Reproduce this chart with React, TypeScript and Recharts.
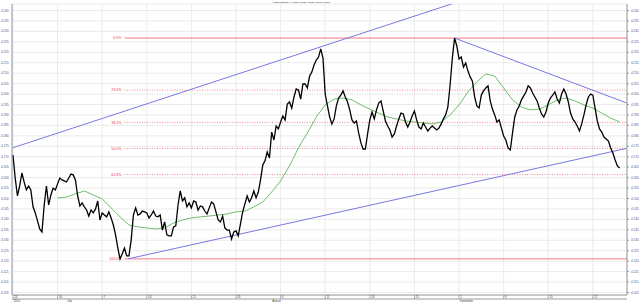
import { LineChart, Line, XAxis, YAxis, CartesianGrid, ReferenceLine } from 'recharts';

// one point every quarter of a trading day, day 0 = Mon 23 June 2014
const STEP = 0.25;
const price = [
  4.1708, 4.1598, 4.1512, 4.1560, 4.1622, 4.1579, 4.1541, 4.1560, 4.1541, 4.1460,
  4.1431, 4.1393, 4.1354, 4.1340, 4.1469, 4.1560, 4.1469, 4.1517, 4.1550, 4.1541,
  4.1570, 4.1598, 4.1589, 4.1584, 4.1579, 4.1598, 4.1617, 4.1613, 4.1589, 4.1512,
  4.1464, 4.1479, 4.1460, 4.1445, 4.1416, 4.1445, 4.1431, 4.1450, 4.1488, 4.1397,
  4.1431, 4.1421, 4.1412, 4.1436, 4.1407, 4.1373, 4.1326, 4.1263, 4.1211, 4.1235,
  4.1263, 4.1225, 4.1225, 4.1302, 4.1421, 4.1455, 4.1421, 4.1426, 4.1440, 4.1436,
  4.1431, 4.1407, 4.1421, 4.1440, 4.1416, 4.1412, 4.1421, 4.1349, 4.1388, 4.1326,
  4.1321, 4.1321, 4.1364, 4.1369, 4.1469, 4.1536, 4.1488, 4.1503, 4.1460, 4.1479,
  4.1455, 4.1488, 4.1483, 4.1445, 4.1464, 4.1460, 4.1440, 4.1426, 4.1455, 4.1483,
  4.1474, 4.1436, 4.1397, 4.1388, 4.1416, 4.1359, 4.1349, 4.1349, 4.1306, 4.1340,
  4.1345, 4.1321, 4.1378, 4.1436, 4.1474, 4.1512, 4.1483, 4.1503, 4.1536, 4.1503,
  4.1531, 4.1589, 4.1660, 4.1680, 4.1723, 4.1694, 4.1818, 4.1780, 4.1847, 4.1833,
  4.1866, 4.1895, 4.1876, 4.1952, 4.1962, 4.1933, 4.1986, 4.2024, 4.2019, 4.1976,
  4.2048, 4.2048, 4.2029, 4.2086, 4.2105, 4.2139, 4.2163, 4.2177, 4.2216, 4.2172,
  4.2000, 4.1943, 4.1890, 4.1857, 4.1881, 4.1943, 4.1981, 4.1995, 4.2015, 4.1986,
  4.1962, 4.1924, 4.1876, 4.1861, 4.1871, 4.1814, 4.1766, 4.1737, 4.1737, 4.1809,
  4.1876, 4.1914, 4.1881, 4.1924, 4.1957, 4.1967, 4.1919, 4.1871, 4.1847, 4.1828,
  4.1794, 4.1809, 4.1847, 4.1881, 4.1909, 4.1905, 4.1866, 4.1842, 4.1866, 4.1895,
  4.1919, 4.1876, 4.1842, 4.1833, 4.1861, 4.1842, 4.1823, 4.1837, 4.1847, 4.1837,
  4.1828, 4.1837, 4.1857, 4.1881, 4.1900, 4.1938, 4.2043, 4.2172, 4.2268, 4.2230,
  4.2168, 4.2177, 4.2129, 4.2149, 4.2110, 4.2082, 4.2062, 4.1986, 4.1943, 4.1933,
  4.1995, 4.2015, 4.2029, 4.2039, 4.1967, 4.1928, 4.1900, 4.1866, 4.1876, 4.1837,
  4.1799, 4.1780, 4.1742, 4.1732, 4.1814, 4.1890, 4.1924, 4.1943, 4.1972, 4.1991,
  4.2010, 4.2039, 4.2029, 4.2005, 4.1986, 4.1967, 4.1933, 4.1905, 4.1890, 4.1914,
  4.1957, 4.1981, 4.1995, 4.2010, 4.1976, 4.1957, 4.2000, 4.2024, 4.2000, 4.1962,
  4.1909, 4.1881, 4.1866, 4.1847, 4.1823, 4.1857, 4.1900, 4.1948, 4.1986, 4.2000,
  4.1995, 4.1933, 4.1871, 4.1833, 4.1818, 4.1794, 4.1785, 4.1775, 4.1742, 4.1718,
  4.1684, 4.1656, 4.1646,
];

// moving average, one value per trading day from day 5
const MA_START = 5;
const ma = [
  4.1503, 4.1507, 4.1522, 4.1536, 4.1517, 4.1498, 4.1455, 4.1412, 4.1373, 4.1364,
  4.1359, 4.1354, 4.1359, 4.1383, 4.1397, 4.1407, 4.1412, 4.1416, 4.1421, 4.1426,
  4.1436, 4.1440, 4.1460, 4.1483, 4.1531, 4.1584, 4.1656, 4.1742, 4.1814, 4.1890,
  4.1948, 4.1976, 4.1981, 4.1972, 4.1948, 4.1928, 4.1909, 4.1890, 4.1881, 4.1871,
  4.1866, 4.1861, 4.1857, 4.1866, 4.1900, 4.1948, 4.2010, 4.2058, 4.2096, 4.2086,
  4.2029, 4.1972, 4.1938, 4.1924, 4.1928, 4.1948, 4.1972, 4.1981, 4.1967, 4.1948,
  4.1933, 4.1909, 4.1885, 4.1866,
];

const weekTicks = [0, 5, 10, 15, 20, 25, 30, 35, 40, 45, 50, 55, 60, 65];
const weekLabels = ['23', '30', '7', '14', '21', '28', '4', '11', '18', '25', '1', '8', '15', '22'];
const monthTicks = [0, 6, 29, 50];
const monthLabels = ['2014', 'July', 'August', 'September'];

const priceTicks = [
  4.105, 4.11, 4.115, 4.12, 4.125, 4.13, 4.135, 4.14, 4.145, 4.15, 4.155, 4.16, 4.165, 4.17,
  4.175, 4.18, 4.185, 4.19, 4.195, 4.2, 4.205, 4.21, 4.215, 4.22, 4.225, 4.23, 4.235, 4.24,
];

// fibonacci retracement between the July low and the late August high
const HIGH = 4.2268;
const LOW = 4.1211;
const FIB_FROM = 12.5;
const fibRatios = [0, 0.236, 0.382, 0.5, 0.618, 1];
const fibNames = ['0.0%', '23.6%', '38.2%', '50.0%', '61.8%', '100.0%'];

// trend lines [day, price]
const upperTrend = [[0, 4.1743], [60, 4.2583]];
const lowerTrend = [[12.9, 4.1211], [68.8, 4.174]];
const fallTrend = [[49.5, 4.2268], [68.8, 4.1957]];

const X_DOMAIN = [-0.11, 68.83];
const Y_DOMAIN = [4.1038, 4.2431];

const priceData = price.map((p, i) => ({ d: i * STEP, p }));
const maData = ma.map((v, i) => ({ d: MA_START + i, v }));

const FONT = 'Liberation Sans, Arial, sans-serif';
const AXIS = '#9a9a9a';
const GRID = '#e6e6e6';
const FIB = '#ee7a82';
const BLUE = '#7878e6';

// day number inside the strip under the plot, with its own tick mark
const DayTick = (props: any) => {
  const { x, y, payload } = props;
  const i = weekTicks.indexOf(payload.value);
  return (
    <g>
      <line x1={x} y1={y} x2={x} y2={y + 4} stroke={AXIS} strokeWidth={0.8} />
      <text x={x + 1.2} y={y + 3.2} fontSize={3} fill="#444" fontFamily={FONT}>
        {weekLabels[i]}
      </text>
    </g>
  );
};

const MonthTick = (props: any) => {
  const { x, y, payload } = props;
  const i = monthTicks.indexOf(payload.value);
  return (
    <text x={x + 0.5} y={y + 2.6} fontSize={2.8} fill="#444" fontFamily={FONT}>
      {monthLabels[i]}
    </text>
  );
};

const PriceTick = (props: any) => {
  const { x, y, payload, side } = props;
  return (
    <text
      x={side === 'left' ? 1 : x + 2}
      y={y + 1.1}
      fontSize={3.1}
      fill="#555"
      fontFamily={FONT}
    >
      {payload.value.toFixed(3)}
    </text>
  );
};

const FibLabel = (props: any) => {
  const { viewBox, value } = props;
  return (
    <text
      x={viewBox.x - 3}
      y={viewBox.y + 1.3}
      textAnchor="end"
      fontSize={3.6}
      fill="#e0404a"
      fontFamily={FONT}
    >
      {value}
    </text>
  );
};

export default function App() {
  return (
    <div style={{ position: 'absolute', left: 0, top: 0, width: 640, height: 302, background: '#fff' }}>
      <LineChart width={640} height={302} data={priceData} margin={{ top: 4, right: 0, bottom: 0, left: 0 }}>
        <CartesianGrid stroke={GRID} strokeWidth={0.8} />
        <XAxis
          dataKey="d"
          type="number"
          domain={X_DOMAIN}
          ticks={weekTicks}
          allowDataOverflow
          height={4}
          stroke={AXIS}
          tickLine={false}
          tickSize={0}
          tickMargin={0}
          tick={<DayTick />}
          interval={0}
        />
        <XAxis
          xAxisId="m"
          dataKey="d"
          type="number"
          domain={X_DOMAIN}
          ticks={monthTicks}
          allowDataOverflow
          height={3}
          stroke={AXIS}
          tickLine={false}
          tickSize={0}
          tickMargin={0}
          tick={<MonthTick />}
          interval={0}
        />
        <YAxis
          orientation="right"
          type="number"
          domain={Y_DOMAIN}
          ticks={priceTicks}
          allowDataOverflow
          width={13}
          stroke={AXIS}
          tickSize={2}
          tickMargin={0}
          tick={<PriceTick side="right" />}
          interval={0}
        />
        <YAxis
          yAxisId="l"
          type="number"
          domain={Y_DOMAIN}
          ticks={priceTicks}
          allowDataOverflow
          width={12}
          stroke={AXIS}
          tickLine={false}
          tick={<PriceTick side="left" />}
          interval={0}
        />

        {fibRatios.map((r, i) => {
          const level = HIGH - r * (HIGH - LOW);
          const solid = r === 0 || r === 1;
          return (
            <ReferenceLine
              key={fibNames[i]}
              segment={[{ x: FIB_FROM, y: level }, { x: X_DOMAIN[1], y: level }]}
              stroke={FIB}
              strokeWidth={solid ? 1 : 0.9}
              strokeDasharray={solid ? undefined : '1 1.5'}
              label={<FibLabel value={fibNames[i]} />}
            />
          );
        })}

        {[upperTrend, lowerTrend, fallTrend].map((t, i) => (
          <ReferenceLine
            key={`trend-${i}`}
            segment={[{ x: t[0][0], y: t[0][1] }, { x: t[1][0], y: t[1][1] }]}
            stroke={BLUE}
            strokeWidth={1}
            ifOverflow="hidden"
          />
        ))}

        <Line
          data={maData}
          dataKey="v"
          type="linear"
          stroke="#5fb75f"
          strokeWidth={0.9}
          dot={false}
          isAnimationActive={false}
        />
        <Line
          dataKey="p"
          type="linear"
          stroke="#000"
          strokeWidth={1.3}
          dot={false}
          isAnimationActive={false}
        />
      </LineChart>
      <svg width={640} height={6} style={{ position: 'absolute', left: 0, top: 0 }}>
        <text x={273} y={3} fontSize={2.4} textLength={57} fill="#333" fontFamily={FONT}>
          FOREX EURPLN=X 4.17660, 4.18450, 4.16920, 4.16980, -0.00680
        </text>
      </svg>
    </div>
  );
}
